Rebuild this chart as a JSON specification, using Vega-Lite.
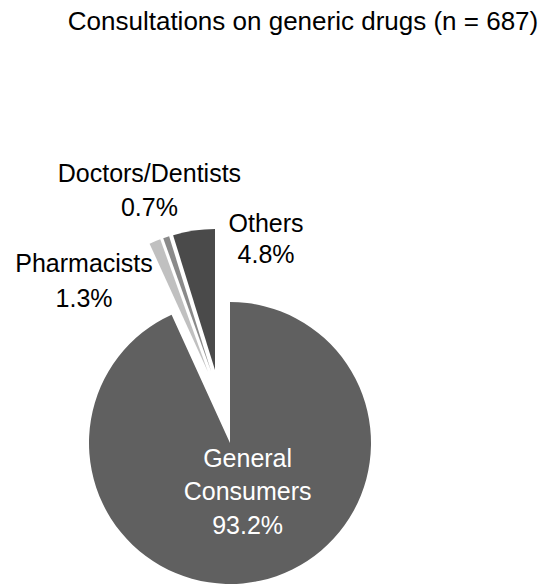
{
  "$schema": "https://vega.github.io/schema/vega-lite/v6.json",
  "autosize": {"type": "none"},
  "width": 284,
  "height": 282,
  "padding": {"left": 88, "top": 302, "right": 182, "bottom": 0},
  "background": "white",
  "title": {
    "text": "Consultations on generic drugs (n = 687)",
    "font": "Liberation Sans",
    "fontSize": 26,
    "fontWeight": "normal",
    "color": "#000000",
    "anchor": "middle",
    "frame": "group",
    "dx": 73,
    "dy": -123
  },
  "data": {
    "values": [
      {"group": "General Consumers", "label": "General\nConsumers\n93.2%", "pct": 93.2, "order": 1},
      {"group": "Pharmacists", "label": "Pharmacists\n1.3%", "pct": 1.3, "order": 2},
      {"group": "Doctors/Dentists", "label": "Doctors/Dentists\n0.7%", "pct": 0.7, "order": 3},
      {"group": "Others", "label": "Others\n4.8%", "pct": 4.8, "order": 4}
    ]
  },
  "transform": [
    {"stack": "pct", "groupby": [], "sort": [{"field": "order"}], "as": ["t0", "t1"]},
    {"calculate": "(datum.t0 + datum.t1) / 2", "as": "tm"}
  ],
  "layer": [
    {
      "transform": [{"filter": "datum.group === 'General Consumers'"}],
      "mark": {"type": "arc", "outerRadius": 141},
      "encoding": {
        "theta": {"field": "t0", "type": "quantitative", "scale": {"domain": [0, 100], "range": [0, 6.283185307]}},
        "theta2": {"field": "t1"},
        "color": {"field": "group", "type": "nominal", "scale": {"domain": ["General Consumers", "Pharmacists", "Doctors/Dentists", "Others"], "range": ["#606060", "#c0c0c0", "#8a8a8a", "#4a4a4a"]}, "legend": null}
      }
    },
    {
      "transform": [{"filter": "datum.group === 'Pharmacists'"}],
      "mark": {"type": "arc", "outerRadius": 141, "xOffset": -22, "yOffset": -71},
      "encoding": {
        "theta": {"field": "t0", "type": "quantitative", "scale": {"domain": [0, 100], "range": [0, 6.283185307]}},
        "theta2": {"field": "t1"},
        "color": {"field": "group", "type": "nominal", "scale": {"domain": ["General Consumers", "Pharmacists", "Doctors/Dentists", "Others"], "range": ["#606060", "#c0c0c0", "#8a8a8a", "#4a4a4a"]}, "legend": null}
      }
    },
    {
      "transform": [{"filter": "datum.group === 'Doctors/Dentists'"}],
      "mark": {"type": "arc", "outerRadius": 141, "xOffset": -19, "yOffset": -72},
      "encoding": {
        "theta": {"field": "t0", "type": "quantitative", "scale": {"domain": [0, 100], "range": [0, 6.283185307]}},
        "theta2": {"field": "t1"},
        "color": {"field": "group", "type": "nominal", "scale": {"domain": ["General Consumers", "Pharmacists", "Doctors/Dentists", "Others"], "range": ["#606060", "#c0c0c0", "#8a8a8a", "#4a4a4a"]}, "legend": null}
      }
    },
    {
      "transform": [{"filter": "datum.group === 'Others'"}],
      "mark": {"type": "arc", "outerRadius": 141, "xOffset": -15, "yOffset": -73},
      "encoding": {
        "theta": {"field": "t0", "type": "quantitative", "scale": {"domain": [0, 100], "range": [0, 6.283185307]}},
        "theta2": {"field": "t1"},
        "color": {"field": "group", "type": "nominal", "scale": {"domain": ["General Consumers", "Pharmacists", "Doctors/Dentists", "Others"], "range": ["#606060", "#c0c0c0", "#8a8a8a", "#4a4a4a"]}, "legend": null}
      }
    },
    {
      "transform": [{"filter": "datum.group === 'General Consumers'"}],
      "mark": {"type": "text", "radius": 50, "dx": 7, "dy": -25, "font": "Liberation Sans", "fontSize": 25, "lineHeight": 33.5, "lineBreak": "\n", "align": "center", "baseline": "alphabetic", "color": "#ffffff"},
      "encoding": {
        "theta": {"field": "tm", "type": "quantitative", "stack": null, "scale": {"domain": [0, 100], "range": [0, 6.283185307]}},
        "text": {"field": "label"}
      }
    },
    {
      "transform": [{"filter": "datum.group === 'Pharmacists'"}],
      "mark": {"type": "text", "radius": 175, "dx": -80, "dy": -9, "font": "Liberation Sans", "fontSize": 25, "lineHeight": 35, "lineBreak": "\n", "align": "center", "baseline": "alphabetic", "color": "#000000"},
      "encoding": {
        "theta": {"field": "tm", "type": "quantitative", "stack": null, "scale": {"domain": [0, 100], "range": [0, 6.283185307]}},
        "text": {"field": "label"}
      }
    },
    {
      "transform": [{"filter": "datum.group === 'Doctors/Dentists'"}],
      "mark": {"type": "text", "radius": 266, "dx": 4, "dy": -9, "font": "Liberation Sans", "fontSize": 25, "lineHeight": 34, "lineBreak": "\n", "align": "center", "baseline": "alphabetic", "color": "#000000"},
      "encoding": {
        "theta": {"field": "tm", "type": "quantitative", "stack": null, "scale": {"domain": [0, 100], "range": [0, 6.283185307]}},
        "text": {"field": "label"}
      }
    },
    {
      "transform": [{"filter": "datum.group === 'Others'"}],
      "mark": {"type": "text", "radius": 206, "dx": 67, "dy": -7, "font": "Liberation Sans", "fontSize": 25, "lineHeight": 31, "lineBreak": "\n", "align": "center", "baseline": "alphabetic", "color": "#000000"},
      "encoding": {
        "theta": {"field": "tm", "type": "quantitative", "stack": null, "scale": {"domain": [0, 100], "range": [0, 6.283185307]}},
        "text": {"field": "label"}
      }
    }
  ],
  "config": {"view": {"stroke": null}}
}
